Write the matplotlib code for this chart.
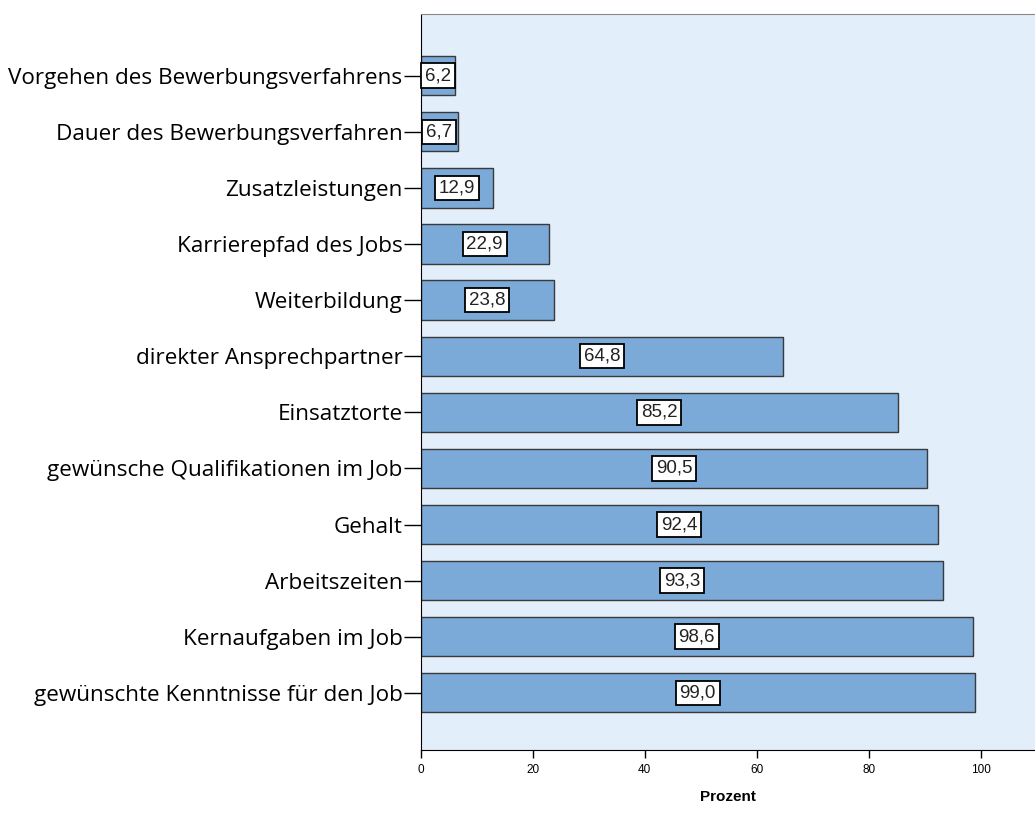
import matplotlib.pyplot as plt

# data, top to bottom as in the chart
categories = [
    'Vorgehen des Bewerbungsverfahrens',
    'Dauer des Bewerbungsverfahren',
    'Zusatzleistungen',
    'Karrierepfad des Jobs',
    'Weiterbildung',
    'direkter Ansprechpartner',
    'Einsatztorte',
    'gewünsche Qualifikationen im Job',
    'Gehalt',
    'Arbeitszeiten',
    'Kernaufgaben im Job',
    'gewünschte Kenntnisse für den Job',
]
values = [6.2, 6.7, 12.9, 22.9, 23.8, 64.8, 85.2, 90.5, 92.4, 93.3, 98.6, 99.0]
xticks = [0, 20, 40, 60, 80, 100]

bar_color = '#7ba9d8'
bg_color = '#e2eefa'

fig = plt.figure(figsize=(10.35, 8.14), dpi=100)
ax = fig.add_axes([0.4063, 0.0786, 0.5937, 0.9042])
ax.set_facecolor(bg_color)

n = len(categories)
ypos = [n - 1 - i for i in range(n)]
ax.barh(ypos, values, height=0.7, color=bar_color, edgecolor='#3a3a3a', linewidth=1.0, zorder=2)

for y, v in zip(ypos, values):
    ax.text(v / 2, y, f'{v:.1f}'.replace('.', ','), ha='center', va='center',
            fontsize=13.5, family='Liberation Sans', color='#222222', zorder=3,
            bbox=dict(boxstyle='square,pad=0.2', fc='white', ec='black', lw=1.3))

ax.set_yticks(ypos)
ax.set_yticklabels(categories, fontsize=16.2, family='Open Sans', color='black')
ax.tick_params(axis='y', length=12, width=1, pad=1)
ax.set_xticks(xticks)
ax.set_xticklabels([str(t) for t in xticks], fontsize=8.5, family='Liberation Sans')
ax.tick_params(axis='x', length=6, width=1, pad=4)

ax.set_xlim(0, 109.7)
ax.set_ylim(-1.02, n - 1 + 1.1)
ax.set_xlabel('Prozent', fontsize=11, fontweight='bold', family='Liberation Sans', labelpad=10)

ax.spines['right'].set_visible(False)
ax.spines['top'].set_color('#888888')
ax.spines['left'].set_color('black')
ax.spines['bottom'].set_color('black')

fig.savefig('out.png', dpi=100)
